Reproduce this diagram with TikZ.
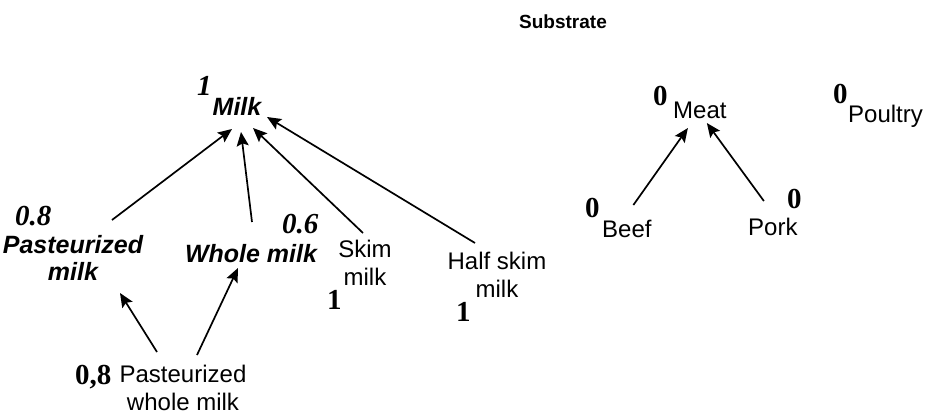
\documentclass[tikz,border=0pt]{standalone}
\usepackage{fontspec}
\setmainfont{Liberation Sans}
\newfontfamily\serifnum{Liberation Serif}
\usetikzlibrary{arrows.meta,calc}
\newcommand\mlines[1]{\begin{tabular}[t]{@{}c@{}}#1\end{tabular}}
\tikzset{
  lbl/.style={inner sep=0pt, font=\fontsize{24}{28}\selectfont},
  blbl/.style={inner sep=0pt, font=\fontsize{25}{27.5}\selectfont\bfseries\itshape},
  num/.style={inner sep=0pt, font=\fontsize{29}{30}\selectfont\serifnum\bfseries},
  inum/.style={inner sep=0pt, font=\fontsize{29}{30}\selectfont\serifnum\bfseries\itshape},
  arr/.style={-{Stealth[length=14pt,width=12pt,inset=2.5pt]}, line width=1.7pt, black},
}
\begin{document}
\begin{tikzpicture}[x=1pt,y=-1pt]
\useasboundingbox (0,0) rectangle (934,415);
% title
\node[inner sep=0pt, font=\fontsize{19}{22}\selectfont\bfseries, anchor=base] (title) at (563,28) {Substrate};
% milk tree
\node[blbl, anchor=base] (milk) at (237,115) {Milk};
\node[inum, anchor=base west] (nmilk) at (197,95) {1};
\node[blbl, anchor=base] (pm) at (73,253) {\mlines{Pasteurized\\milk}};
\node[inum, anchor=base west] (npm) at (15,225) {0.8};
\node[blbl, anchor=base] (wm) at (251,262) {Whole milk};
\node[inum, anchor=base west] (nwm) at (282,233) {0.6};
\node[lbl, anchor=base] (sm) at (365,257) {\mlines{Skim\\milk}};
\node[num, anchor=base west] (nsm) at (327,309) {1};
\node[lbl, anchor=base] (hm) at (497,269) {\mlines{Half skim\\milk}};
\node[num, anchor=base west] (nhm) at (456,321) {1};
\node[lbl, anchor=base] (pwm) at (183,382) {\mlines{Pasteurized\\whole milk}};
\node[num, anchor=base west] (npwm) at (75,384) {0,8};
% meat tree
\node[lbl, anchor=base west] (meat) at (673,118) {Meat};
\node[num, anchor=base west] (nmeat) at (653,105) {0};
\node[lbl, anchor=base west] (poultry) at (848,122) {Poultry};
\node[num, anchor=base west] (npoultry) at (833,103) {0};
\node[lbl, anchor=base west] (beef) at (602,237) {Beef};
\node[num, anchor=base west] (nbeef) at (585,217) {0};
\node[lbl, anchor=base west] (pork) at (748,235) {Pork};
\node[num, anchor=base west] (npork) at (787,208) {0};
% arrows
\draw[arr] ($(pm.base)+(39,-33)$) -- ($(milk.base)+(-5,14)$);
\draw[arr] ($(wm.base)+(1,-40)$) -- ($(milk.base)+(4,17)$);
\draw[arr] ($(sm.base)+(-2,-24)$) -- ($(milk.base)+(16,13)$);
\draw[arr] ($(hm.base)+(-22,-26)$) -- ($(milk.base)+(30,2)$);
\draw[arr] ($(pwm.base)+(-26,-30)$) -- ($(pm.base)+(47,40)$);
\draw[arr] ($(pwm.base)+(14,-27)$) -- ($(wm.base)+(-13,6)$);
\draw[arr] ($(beef.base)+(6.5,-32)$) -- ($(meat.base)+(-12,10)$);
\draw[arr] ($(pork.base)+(-9,-34)$) -- ($(meat.base)+(7,5)$);
\end{tikzpicture}
\end{document}
